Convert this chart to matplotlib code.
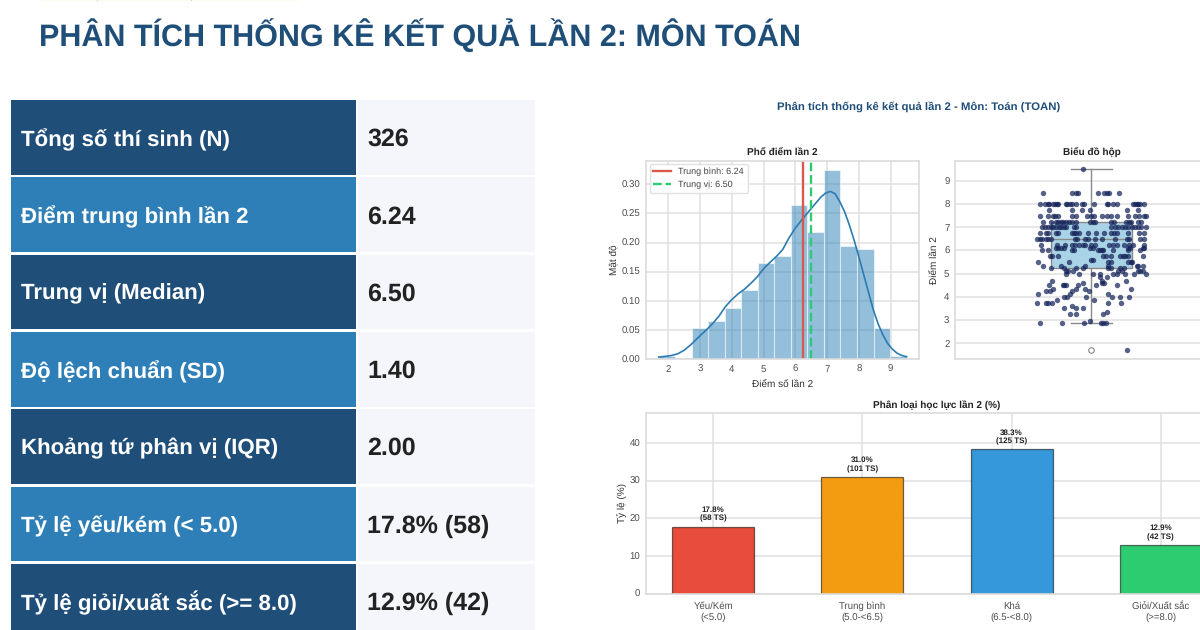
import matplotlib
matplotlib.use("Agg")
import matplotlib.pyplot as plt
from matplotlib.patches import Rectangle

plt.rcParams["font.family"] = ["Liberation Sans", "DejaVu Sans"]
plt.rcParams["text.hinting"] = "none"

# ============================================================
# DATA
# ============================================================

slide_title = "PHÂN TÍCH THỐNG KÊ KẾT QUẢ LẦN 2: MÔN TOÁN"
chart_title = "Phân tích thống kê kết quả lần 2 - Môn: Toán (TOAN)"

stat_labels = [
    "Tổng số thí sinh (N)",
    "Điểm trung bình lần 2",
    "Trung vị (Median)",
    "Độ lệch chuẩn (SD)",
    "Khoảng tứ phân vị (IQR)",
    "Tỷ lệ yếu/kém (< 5.0)",
    "Tỷ lệ giỏi/xuất sắc (>= 8.0)",
]
stat_values = ["326", "6.24", "6.50", "1.40", "2.00", "17.8% (58)", "12.9% (42)"]

hist_edges = [1.7, 2.22, 2.74, 3.26, 3.78, 4.3, 4.82, 5.34, 5.86, 6.38, 6.9, 7.42, 7.94, 8.46, 8.98, 9.5]
hist_heights = [0.005, 0.0, 0.053, 0.065, 0.088, 0.118, 0.165, 0.177, 0.265, 0.218, 0.325, 0.195, 0.189, 0.053, 0.005]
kde_x = [1.7, 1.9, 2.1, 2.3, 2.5, 2.7, 2.85, 3.0, 3.2, 3.4, 3.6, 3.8, 4.0, 4.2, 4.4, 4.6, 4.8, 5.0, 5.2, 5.4, 5.6,
         5.8, 6.0, 6.2, 6.4, 6.6, 6.8, 6.95, 7.1, 7.25, 7.4, 7.55, 7.7, 7.85, 8.0, 8.15, 8.3, 8.45, 8.6, 8.75, 8.9,
         9.05, 9.2, 9.35, 9.5]
kde_y = [.0034, .0045, .006, .009, .015, .024, .032, .04, .05, .061, .074, .09, .102, .112, .12, .13, .141, .155,
         .166, .176, .188, .208, .225, .239, .252, .265, .278, .285, .288, .284, .27, .253, .23, .204, .175, .145,
         .115, .085, .061, .042, .027, .017, .01, .006, .004]
mean_score = 6.24
median_score = 6.50

box_q1 = 5.25
box_med = 6.5
box_q3 = 7.25
box_low = 2.85
box_high = 9.5
box_fliers = [1.7]

strip_scores = [9.5, 8.5, 8.0, 7.75, 7.5, 7.25, 7.0, 6.75, 6.5, 6.25, 6.1, 6.0, 5.75, 5.6, 5.5, 5.35, 5.25, 5.1, 5.0,
                4.85, 4.7, 4.6, 4.5, 4.35, 4.25, 4.1, 4.0, 3.85, 3.75, 3.6, 3.5, 3.35, 3.25, 2.95, 2.85, 1.7]
strip_offsets = [
    [-.031],
    [-.177, -.073, -.055, -.049, .022, .046, .057, .063, .100],
    [-.187, -.171, -.159, -.155, -.140, -.134, -.128, -.122, -.095, -.089, -.079, -.071, -.055, -.034, -.028, .010,
     .055, .061, .079, .092, .153, .159, .165, .171, .177, .192],
    [-.155, -.070, -.033, -.004, .131, .171],
    [-.189, -.159, -.140, -.134, -.122, -.073, -.055, -.018, 0, .009, .037, .057, .073, .092, .134, .159, .175, .192, .201],
    [-.179, -.147, -.131, -.122, -.110, -.104, -.092, -.083, -.073, -.055, -.004, .004, .012, .073, .083, .128, .138,
     .143, .171, .183],
    [-.183, -.171, -.159, -.150, -.140, -.131, -.118, -.110, -.100, -.092, -.065, -.055, .073, .085, .098, .110, .122,
     .134, .147, .159, .171, .183, .198],
    [-.187, -.167, -.159, -.131, -.122, -.070, -.065, -.055, -.045, -.012, .016, .045, .073, .083, .092, .134, .175, .192],
    [-.198, -.189, -.183, -.167, -.159, -.147, -.061, -.053, -.024, -.012, .012, .037, .085, .131, .138, .177, .192],
    [-.186, -.125, -.098, -.073, -.061, -.045, -.031, -.024, 0, .012, .065, .077, .094, .118, .137, .153, .192],
    [-.131, -.122, -.110, -.101, -.006, .004, .134, .140, .187, .192],
    [-.183, -.159, -.073, -.065, .024, .031, .037, .043, .079, .134, .177],
    [-.153, -.144, -.122, .043, .053, .073, .104, .114, .122, .134, .189],
    [0, .006],
    [-.195, -.083, .059, .073, .134, .143, .150],
    [-.177, -.110, -.022, .061, .165, .171, .189],
    [-.149, -.101, -.057, -.031, .061, .073, .104, .118],
    [-.092, -.085, -.067, .098, .110, .171, .177, .189],
    [-.092, -.046, .004, .031, .079, .092, .122, .156, .201],
    [.031, .055],
    [-.144, .037, .125],
    [-.031, .040, .046],
    [-.156, -.106, -.100, -.094, -.049, .015, .095],
    [-.140, -.055, -.024, .144],
    [-.165, -.153, -.073, -.009],
    [-.195, -.079, .061],
    [-.101, -.088, -.021, .076, .104, .137],
    [-.126, .009],
    [-.198, -.165, -.161, -.144, .061, .107],
    [-.073],
    [-.100, -.055, -.031],
    [.055],
    [-.079, -.055, .043],
    [-.007],
    [-.189, -.107, -.027, .034, .043, .053],
    [.131],
]

class_names = ["Yếu/Kém\n(<5.0)", "Trung bình\n(5.0-<6.5)", "Khá\n(6.5-<8.0)", "Giỏi/Xuất sắc\n(>=8.0)"]
class_pct = [17.8, 31.0, 38.3, 12.9]
class_count = [58, 101, 125, 42]
class_colors = ["#E74C3C", "#F39C12", "#3498DB", "#2ECC71"]

# ============================================================
# LAYOUT HELPERS
# ============================================================

W, H = 1200, 630
DARK_BLUE = "#1F4E79"
MID_BLUE = "#2E7FB8"
GRID = "#E0E0E0"
TICK = "#4D4D4D"

fig = plt.figure(figsize=(W / 100, H / 100), dpi=100, facecolor="white")


def px_axes(left, top, right, bottom):
    ax = fig.add_axes([left / W, 1 - bottom / H, (right - left) / W, (bottom - top) / H])
    ax.set_axisbelow(True)
    for s in ax.spines.values():
        s.set_color("#DCDCDC")
        s.set_linewidth(1.2)
    ax.tick_params(length=0, labelsize=6.9, labelcolor=TICK, pad=4)
    return ax


bg = fig.add_axes([0, 0, 1, 1])
bg.set_xlim(0, W)
bg.set_ylim(H, 0)
bg.axis("off")

# ============================================================
# LEFT TABLE
# ============================================================

# cropped remains of a line above the title
bg.add_patch(Rectangle((38, 0), 262, 1, facecolor="#FEFBF3", edgecolor="none"))
bg.add_patch(Rectangle((97, 0), 1.2, 1.2, facecolor="#F0C878", edgecolor="none"))
bg.add_patch(Rectangle((191, 0), 1.2, 1.2, facecolor="#F0C878", edgecolor="none"))

bg.text(39, 35, slide_title, fontsize=22, fontweight="bold", color=DARK_BLUE, va="center", ha="left")

for i, (lab, val) in enumerate(zip(stat_labels, stat_values)):
    top = 100 + 77.3 * i
    color = DARK_BLUE if i % 2 == 0 else MID_BLUE
    bg.add_patch(Rectangle((10.7, top), 345.3, 74.7, facecolor=color, edgecolor="none"))
    bg.add_patch(Rectangle((358, top), 177, 74.7, facecolor="#F4F6FB", edgecolor="none"))
    bg.text(21, top + 39.5, lab, fontsize=16, fontweight="bold", color="white", va="center", ha="left")
    bg.text(367, top + 39.5, val, fontsize=18, fontweight="bold", color="#222222", va="center", ha="left")

bg.text(919, 107, chart_title, fontsize=8.2, fontweight="bold", color=DARK_BLUE, va="center", ha="center")

# ============================================================
# HISTOGRAM
# ============================================================

ax1 = px_axes(646, 160.7, 919.3, 359)
widths = [b - a for a, b in zip(hist_edges[:-1], hist_edges[1:])]
ax1.bar(hist_edges[:-1], hist_heights, width=widths, align="edge", color="#2980B9", alpha=0.5, edgecolor="white", linewidth=0.8)
ax1.plot(kde_x, kde_y, color="#2E7BB0", linewidth=1.2)
ax1.axvline(mean_score, color="#D9594C", linewidth=1.7, label=f"Trung bình: {mean_score:.2f}")
ax1.axvline(median_score, color="#2ECC71", linewidth=1.7, linestyle="--", label=f"Trung vị: {median_score:.2f}")
ax1.set_xlim(1.3, 9.9)
ax1.set_ylim(0, 0.3407)
ax1.set_xticks(range(2, 10))
ax1.set_yticks([0, 0.05, 0.1, 0.15, 0.2, 0.25, 0.3])
ax1.set_yticklabels(["0.00", "0.05", "0.10", "0.15", "0.20", "0.25", "0.30"])
ax1.grid(True, color=GRID, linewidth=1.1)
ax1.set_title("Phổ điểm lần 2", fontsize=7.2, fontweight="bold", color="#222222", pad=4)
ax1.set_xlabel("Điểm số lần 2", fontsize=7.2, color="#333333", labelpad=4.5)
ax1.set_ylabel("Mật độ", fontsize=7.2, color="#333333", labelpad=2.5)
ax1.legend(loc="upper left", fontsize=6.5, frameon=True, edgecolor="#DDDDDD", framealpha=0.9, labelcolor="#444444",
           borderaxespad=0.4, handlelength=2.0)

# ============================================================
# BOX PLOT
# ============================================================

ax2 = px_axes(955, 160.7, 1228, 359)
stats = [{"med": box_med, "q1": box_q1, "q3": box_q3, "whislo": box_low, "whishi": box_high, "fliers": box_fliers}]
ax2.bxp(stats, positions=[0], widths=[0.3], patch_artist=True,
        boxprops=dict(facecolor="#A9D3E6", edgecolor="#8A8A8A", linewidth=1),
        medianprops=dict(color="#8A8A8A", linewidth=1),
        whiskerprops=dict(color="#8A8A8A", linewidth=1),
        capprops=dict(color="#8A8A8A", linewidth=1),
        capwidths=[0.15],
        flierprops=dict(marker="o", markerfacecolor="white", markeredgecolor="#777777", markersize=4, markeredgewidth=0.7))
strip_x = []
strip_y = []
for score, offs in zip(strip_scores, strip_offsets):
    for o in offs:
        strip_x.append(o)
        strip_y.append(score)
ax2.scatter(strip_x, strip_y, s=15, color="#15245A", alpha=0.72, linewidths=0, zorder=4)
ax2.set_xlim(-0.5, 0.5)
ax2.set_ylim(1.31, 9.88)
ax2.set_xticks([])
ax2.set_yticks(range(2, 10))
ax2.grid(True, axis="y", color=GRID, linewidth=1.1)
ax2.set_title("Biểu đồ hộp", fontsize=7.2, fontweight="bold", color="#222222", pad=4)
ax2.set_ylabel("Điểm lần 2", fontsize=7.2, color="#333333", labelpad=3.5)

# ============================================================
# CLASS BARS
# ============================================================

ax3 = px_axes(646, 413, 1228, 593.5)
ax3.bar(range(4), class_pct, width=0.55, color=class_colors, edgecolor=(0, 0, 0, 0.55), linewidth=0.9)
for i, (p, n) in enumerate(zip(class_pct, class_count)):
    ax3.annotate(f"{p:.1f}%\n({n} TS)", (i, p), xytext=(0, 3), textcoords="offset points", ha="center", va="bottom",
                 fontsize=5.8, fontweight="bold", color="#222222", linespacing=1.3)
ax3.set_xlim(-0.451, 3.451)
ax3.set_ylim(0, 48)
ax3.set_xticks(range(4))
ax3.set_xticklabels(class_names, fontsize=6.9, linespacing=1.15)
ax3.tick_params(axis="x", pad=6)
ax3.set_yticks([0, 10, 20, 30, 40])
ax3.grid(True, color=GRID, linewidth=1.1)
ax3.set_title("Phân loại học lực lần 2 (%)", fontsize=7.2, fontweight="bold", color="#222222", pad=4)
ax3.set_ylabel("Tỷ lệ (%)", fontsize=7.2, color="#333333", labelpad=1)

fig.savefig("out.png", dpi=100)
